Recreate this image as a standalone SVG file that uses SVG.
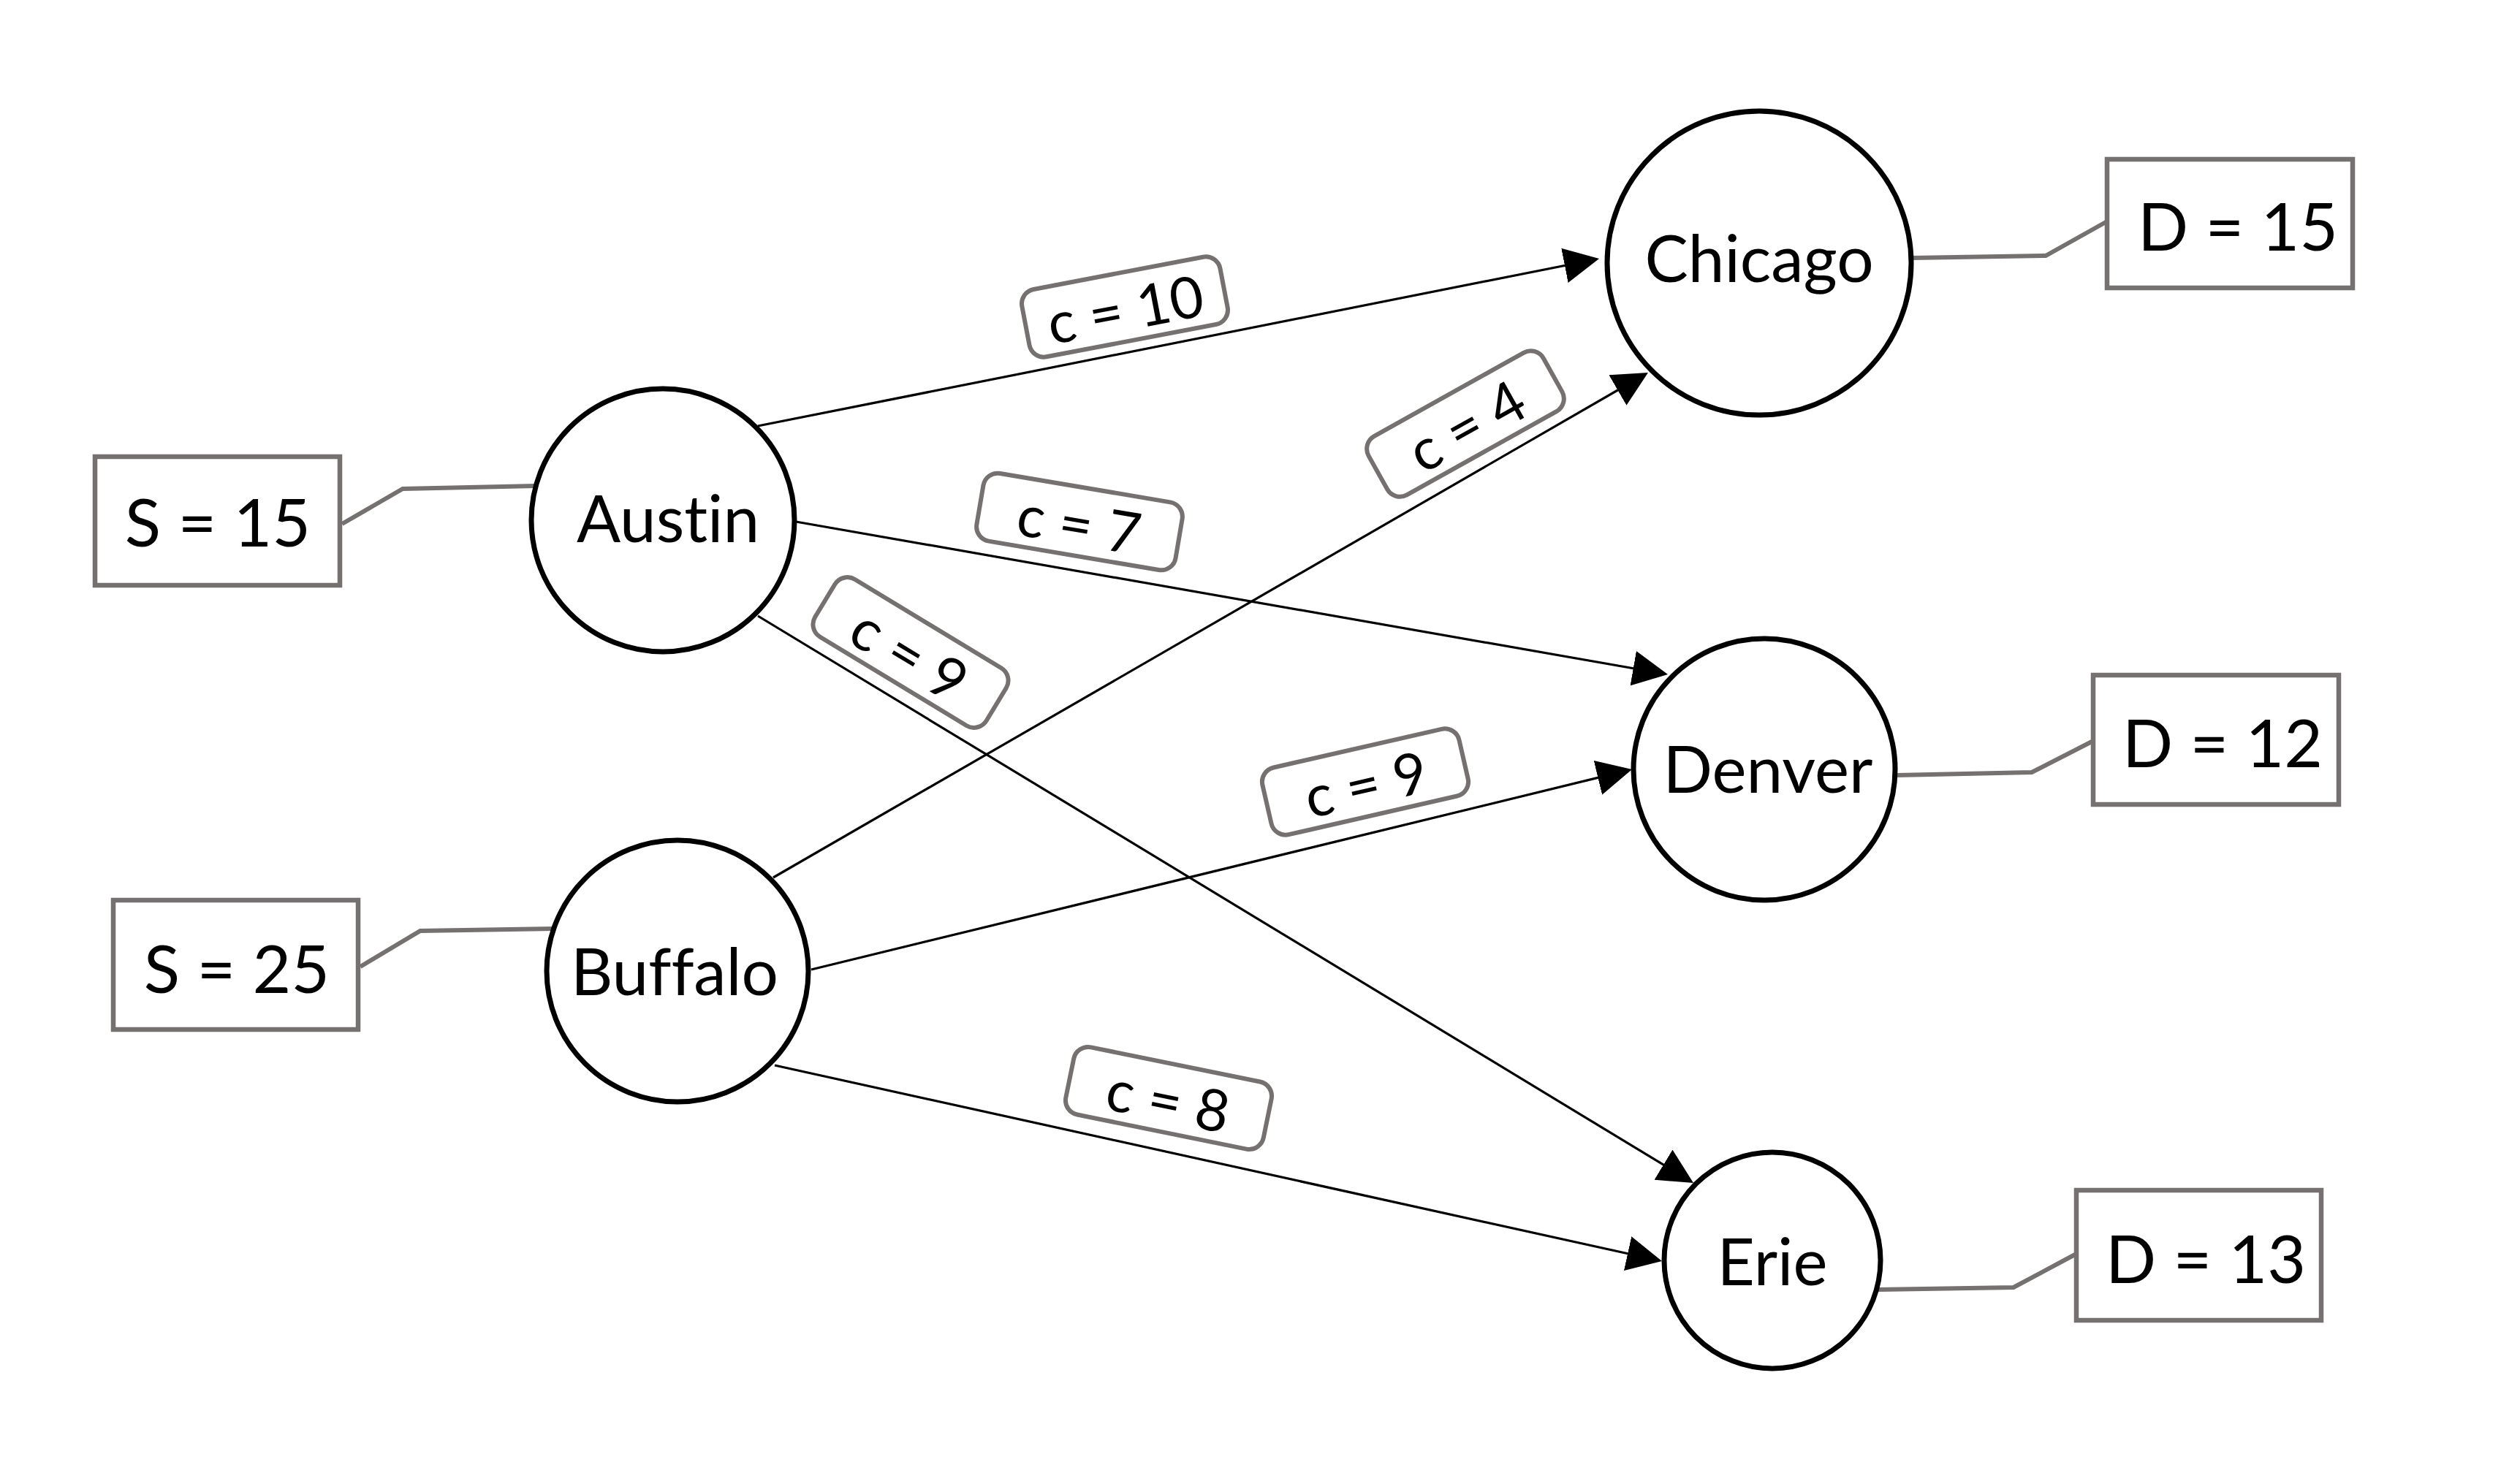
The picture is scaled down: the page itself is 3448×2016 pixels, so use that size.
<svg xmlns="http://www.w3.org/2000/svg" width="3448" height="2016" viewBox="0 0 3448 2016">
<defs>
<style>
.bg{fill:#fff}
.node circle{fill:#fff;stroke:#000;stroke-width:7}
.t{font-family:Lato,"Liberation Sans","Noto Sans",sans-serif;text-anchor:middle;fill:#000;font-variant-ligatures:none;font-feature-settings:"liga" 0}
.nl{font-size:89px}
.bl{font-size:91px}
.cl{font-size:79px}
.box{fill:#fff;stroke:#767171;stroke-width:6.5}
.lead{fill:none;stroke:#767171;stroke-width:6}
.edge{fill:none;stroke:#000;stroke-width:3.2;marker-end:url(#arr)}
.cbox{fill:#fff;stroke:#767171;stroke-width:6}
</style>
<marker id="arr" viewBox="0 0 48 48" markerUnits="userSpaceOnUse" markerWidth="48" markerHeight="48" refX="42" refY="24" orient="auto">
<path d="M0,0 L48,24 L0,48 z" fill="#000"/>
</marker>
</defs>
<rect class="bg" x="0" y="0" width="3448" height="2016"/>

<g id="connectors">
<line class="edge" x1="1037" y1="583" x2="2182.1" y2="355.2"/>
<line class="edge" x1="1089" y1="714" x2="2276.1" y2="922"/>
<line class="edge" x1="1037" y1="843" x2="2311.9" y2="1615.9"/>
<line class="edge" x1="1058" y1="1201" x2="2249.8" y2="513"/>
<line class="edge" x1="1110" y1="1327" x2="2227.2" y2="1054.4"/>
<line class="edge" x1="1060" y1="1458" x2="2268.1" y2="1724.7"/>
<polyline class="lead" points="468,717 551,669 733,665"/>
<polyline class="lead" points="493,1323 575,1274 758,1271"/>
<polyline class="lead" points="2616,353 2799,350 2883,303"/>
<polyline class="lead" points="2595,1061 2780,1057 2864,1014"/>
<polyline class="lead" points="2570,1765 2755,1762 2841,1716"/>
</g>

<g id="edge-labels">
<g id="lbl-austin-chicago" transform="translate(1539,420) rotate(-10.8)">
<rect class="cbox" x="-138" y="-47" width="276" height="94" rx="20"/>
<text class="t cl" x="0" y="32">c = 10</text>
</g>
<g id="lbl-austin-denver" transform="translate(1477,714) rotate(9.6)">
<rect class="cbox" x="-138" y="-47" width="276" height="94" rx="20"/>
<text class="t cl" x="0" y="32">c = 7</text>
</g>
<g id="lbl-austin-erie" transform="translate(1246,893) rotate(31.2)">
<rect class="cbox" x="-137" y="-46" width="274" height="92" rx="20"/>
<text class="t cl" x="0" y="32">c = 9</text>
</g>
<g id="lbl-buffalo-chicago" transform="translate(2005,580) rotate(-29.2)">
<rect class="cbox" x="-137" y="-46" width="274" height="92" rx="20"/>
<text class="t cl" x="0" y="32">c = 4</text>
</g>
<g id="lbl-buffalo-denver" transform="translate(1868,1070) rotate(-12.9)">
<rect class="cbox" x="-138" y="-47" width="276" height="94" rx="20"/>
<text class="t cl" x="0" y="32">c = 9</text>
</g>
<g id="lbl-buffalo-erie" transform="translate(1599,1503) rotate(11.5)">
<rect class="cbox" x="-138" y="-47" width="276" height="94" rx="20"/>
<text class="t cl" x="0" y="32">c = 8</text>
</g>
</g>

<g id="supply-austin">
<rect class="box" x="130" y="625" width="335" height="176"/>
<text class="t bl" x="298" y="748">S = 15</text>
</g>
<g id="supply-buffalo">
<rect class="box" x="155" y="1232" width="335" height="177"/>
<text class="t bl" x="324" y="1359">S = 25</text>
</g>
<g id="demand-chicago">
<rect class="box" x="2883" y="218" width="336" height="176"/>
<text class="t bl" x="3062" y="343">D = 15</text>
</g>
<g id="demand-denver">
<rect class="box" x="2864" y="924" width="336" height="177"/>
<text class="t bl" x="3041" y="1050">D = 12</text>
</g>
<g id="demand-erie">
<rect class="box" x="2841" y="1629" width="335" height="178"/>
<text class="t bl" x="3018" y="1756">D = 13</text>
</g>

<g id="node-austin" class="node">
<circle cx="907" cy="712" r="180"/>
<text class="t nl" x="914" y="742">Austin</text>
</g>
<g id="node-buffalo" class="node">
<circle cx="927" cy="1329" r="179"/>
<text class="t nl" x="923" y="1362">Buffalo</text>
</g>
<g id="node-chicago" class="node">
<circle cx="2407" cy="360" r="208"/>
<text class="t nl" x="2407" y="386">Chicago</text>
</g>
<g id="node-denver" class="node">
<circle cx="2414" cy="1053" r="179"/>
<text class="t nl" x="2419" y="1085">Denver</text>
</g>
<g id="node-erie" class="node">
<circle cx="2425" cy="1725" r="148"/>
<text class="t nl" x="2425" y="1759">Erie</text>
</g>
</svg>
